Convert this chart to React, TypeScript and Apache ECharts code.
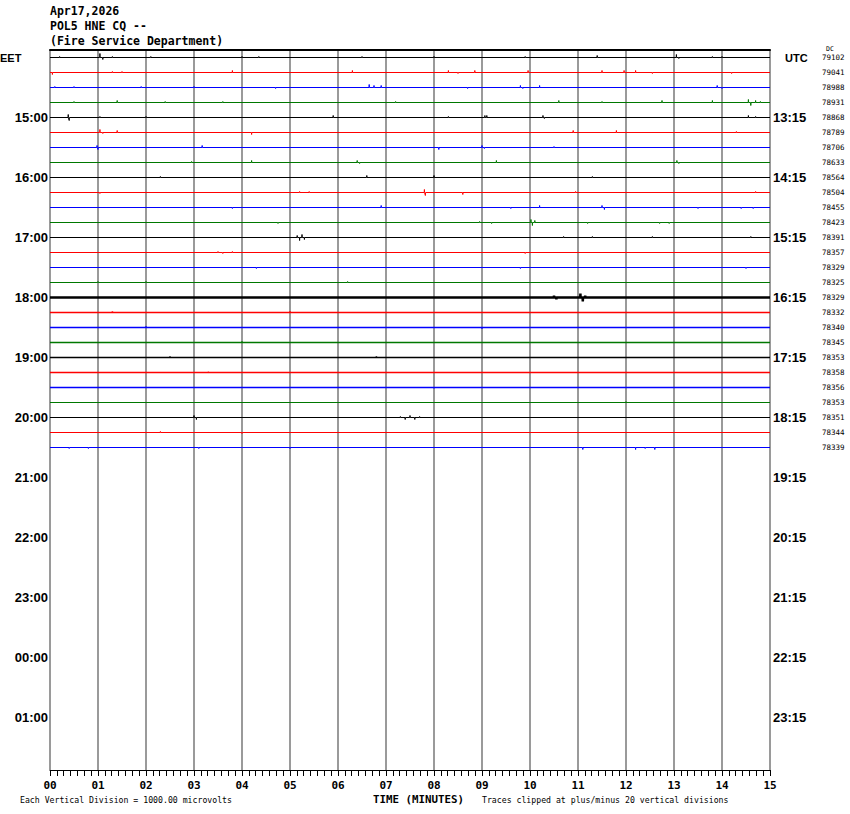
import React, { useEffect, useRef } from "react";
import * as echarts from "echarts";

// ---------- data ----------
const titleLines = ["Apr17,2026", "POL5 HNE CQ --", "(Fire Service Department)"];
const leftHourLabels = ["15:00", "16:00", "17:00", "18:00", "19:00", "20:00", "21:00", "22:00", "23:00", "00:00", "01:00"];
const rightHourLabels = ["13:15", "14:15", "15:15", "16:15", "17:15", "18:15", "19:15", "20:15", "21:15", "22:15", "23:15"];
const traceCounts = [
  79102, 79041, 78988, 78931, 78868, 78789, 78706, 78633, 78564, 78504, 78455, 78423, 78391, 78357,
  78329, 78325, 78329, 78332, 78340, 78345, 78353, 78358, 78356, 78353, 78351, 78344, 78339,
];
const traceColors = ["#000000", "#ff0000", "#0000ff", "#007800"];
// background noise level of each trace (in vertical divisions)
const traceNoise = [0, 0, 0, 0, 0, 0, 0, 0, 0, 0, 0, 0, 0, 0, 0, 0, 1.5, 0.5, 0.5, 0.4, 0.5, 0.3, 0.3, 0.2, 0, 0, 0];
// visible excursions of each trace: [minute, amplitude in divisions (+ = up)]
const traceEvents: [number, number][][] = [
  [[0.2, 1], [1.04, 4], [1.1, -2], [1.3, 1], [2.1, 1], [4.0, 1], [4.35, 1], [6.5, 1], [8.0, 1], [9.9, 1], [11.4, 2], [13.05, 3], [13.1, -1], [13.8, 1], [14.0, 1]],
  [[0.05, -2], [1.3, 1], [1.5, 1], [3.8, 2], [6.3, 2], [8.3, 2], [8.5, -1], [8.85, 2], [9.96, 2], [11.5, 2], [11.96, 2], [12.2, 2], [12.55, -1], [14.2, -1]],
  [[0.1, 1], [0.5, 1], [1.9, 1], [3.0, 1], [4.7, -1], [6.65, 3], [6.75, 2], [6.9, 2], [8.7, -1], [9.8, 2], [9.85, -1], [10.2, 2], [13.9, 2], [14.0, -1]],
  [[0.5, 1], [1.4, 2], [2.4, 1], [3.6, 1], [7.2, 1], [10.6, 2], [11.5, 1], [12.75, 2], [13.8, 2], [14.55, 3], [14.6, -3], [14.7, 2], [14.8, 1]],
  [[0.38, 3], [0.4, -3], [1.04, 1], [2.0, 1], [5.9, 2], [8.3, 1], [9.06, 2], [9.1, 2], [10.27, 2], [10.3, -1], [14.55, 2], [14.7, 1]],
  [[1.04, 3], [1.1, -1], [1.4, 2], [4.2, -2], [10.9, 2], [11.8, 2], [14.3, 1]],
  [[0.98, 2], [1.0, -2], [3.17, 2], [8.1, -2], [9.0, 2], [9.05, -1], [10.5, 1]],
  [[2.95, 1], [4.2, 2], [6.4, 2], [6.45, -1], [9.3, 2], [13.06, 2], [13.1, -1]],
  [[2.3, 1], [6.6, 2], [8.0, 2], [11.3, 1]],
  [[1.04, -1], [5.2, 1], [5.4, 1], [7.8, 3], [7.82, -3], [8.6, -2], [10.95, 1], [14.7, 1]],
  [[3.8, -1], [6.9, 2], [9.6, -1], [10.2, 2], [11.5, 2], [11.55, -2], [13.5, -1], [14.4, -1], [14.65, -1]],
  [[4.75, -1], [8.95, 1], [9.2, -1], [10.02, 3], [10.05, -3], [10.1, 2], [11.2, -1], [12.7, -1], [12.9, -1]],
  [[5.15, 2], [5.2, -3], [5.25, 3], [5.3, -2], [10.7, 1], [11.3, 1], [12.55, 1], [14.6, 1]],
  [[3.5, 1], [3.6, -1], [3.8, 1], [9.9, -1]],
  [[4.3, -1], [9.8, -1], [14.5, -1]],
  [[1.0, 1], [2.0, 1], [6.2, 1]],
  [[10.5, 2], [10.55, -2], [11.05, 4], [11.1, -4], [11.15, 2]],
  [[1.3, 1], [5.0, 1]],
  [[2.0, 1], [9.0, -1]],
  [[4.0, 1]],
  [[2.5, 1], [6.8, 1]],
  [[3.3, 1]],
  [[8.0, -1]],
  [[12.0, 1]],
  [[3.0, 2], [3.05, -2], [7.3, 1], [7.4, -2], [7.5, 2], [7.6, -2], [7.7, 1]],
  [[2.3, 1], [4.0, -1]],
  [[0.4, -1], [0.8, -1], [3.1, -1], [5.0, -1], [11.1, -2], [12.2, -2], [12.4, -1], [12.6, -2]],
];
const minuteCount = 15;
const rowCount = 48; // rows of 15 minutes in 12 hours
const rowsPerHour = 4;
const divisionsPerRow = 15;

const MONO = "'DejaVu Sans Mono', monospace";
const SANS = "'Liberation Sans', Arial, sans-serif";

function buildTrace(row: number, events: [number, number][]) {
  const base = row + 0.5;
  const pts: [number, number][] = [[0, base]];
  const sorted = [...events].sort((a, b) => a[0] - b[0]);
  const d = 0.004;
  for (const [m, a] of sorted) {
    pts.push([m - d, base]);
    pts.push([m, base - a / divisionsPerRow]);
    pts.push([m + d, base]);
  }
  pts.push([minuteCount, base]);
  return pts;
}

export default function App() {
  const ref = useRef<HTMLDivElement>(null);
  useEffect(() => {
    if (!ref.current) return;
    const chart = echarts.init(ref.current, null, { renderer: "svg" });
    const rowIds = Array.from({ length: rowCount }, (_, i) => String(i));
    const leftCats = rowIds.map((_, i) => (i > 0 && i % rowsPerHour === 0 ? leftHourLabels[i / rowsPerHour - 1] || "" : ""));
    const rightCats = rowIds.map((_, i) => (i > 0 && i % rowsPerHour === 0 ? rightHourLabels[i / rowsPerHour - 1] || "" : ""));

    const series: any[] = traceCounts.map((_, i) => ({
      type: "line",
      xAxisIndex: 0,
      yAxisIndex: 0,
      data: buildTrace(i, traceEvents[i] || []),
      symbol: "none",
      silent: true,
      z: 3,
      lineStyle: { color: traceColors[i % traceColors.length], width: 1 + (traceNoise[i] || 0) },
    }));

    const hourLabelStyle = { color: "#000", fontFamily: SANS, fontWeight: "bold" as const, fontSize: 13 };

    chart.setOption({
      animation: false,
      backgroundColor: "#ffffff",
      grid: { left: 50, top: 50, width: 720, height: 720, containLabel: false },
      xAxis: [
        {
          type: "value",
          min: 0,
          max: minuteCount,
          interval: 1,
          position: "bottom",
          axisLine: { show: true, onZero: false, lineStyle: { color: "#000", width: 1 } },
          axisTick: { show: true, length: 6, lineStyle: { color: "#000" } },
          minorTick: { show: true, splitNumber: 7, length: 6, lineStyle: { color: "#000" } },
          splitLine: { show: true, lineStyle: { color: "#9a9a9a", width: 2 } },
          minorSplitLine: { show: false },
          axisLabel: {
            formatter: (v: number) => String(v).padStart(2, "0"),
            color: "#000",
            fontFamily: MONO,
            fontWeight: "bold",
            fontSize: 11,
            margin: 10,
          },
        },
        {
          type: "value",
          min: 0,
          max: minuteCount,
          interval: 1,
          position: "top",
          axisLine: { show: true, onZero: false, lineStyle: { color: "#000", width: 2 } },
          axisTick: { show: false },
          minorTick: { show: false },
          axisLabel: { show: false },
          splitLine: { show: false },
        },
      ],
      yAxis: [
        { type: "value", min: 0, max: rowCount, inverse: true, show: false, position: "left", splitLine: { show: false } },
        {
          type: "category",
          data: rowIds,
          inverse: true,
          position: "left",
          axisLine: { show: false },
          axisTick: { show: false },
          splitLine: { show: false },
          axisLabel: { interval: 0, margin: 2, formatter: (_v: string, idx: number) => leftCats[idx], ...hourLabelStyle },
        },
        {
          type: "category",
          data: rowIds,
          inverse: true,
          position: "right",
          axisLine: { show: false },
          axisTick: { show: false },
          splitLine: { show: false },
          axisLabel: { interval: 0, margin: 3, formatter: (_v: string, idx: number) => rightCats[idx], ...hourLabelStyle },
        },
        {
          type: "category",
          data: rowIds,
          inverse: true,
          position: "right",
          axisLine: { show: false },
          axisTick: { show: false },
          splitLine: { show: false },
          axisLabel: {
            interval: 0,
            margin: 52,
            formatter: (_v: string, idx: number) => (idx < traceCounts.length ? String(traceCounts[idx]) : ""),
            color: "#000",
            fontFamily: MONO,
            fontSize: 7.5,
          },
        },
      ],
      graphic: [
        ...titleLines.map((t, i) => ({
          type: "text",
          left: 50,
          top: 5 + i * 15,
          style: { text: t, fill: "#000", font: `bold 11.5px ${MONO}` },
        })),
        { type: "text", left: 0, top: 52, style: { text: "EET", fill: "#000", font: `bold 11px ${SANS}` } },
        { type: "text", left: 785, top: 52, style: { text: "UTC", fill: "#000", font: `bold 11px ${SANS}` } },
        { type: "text", left: 826, top: 45, style: { text: "DC", fill: "#000", font: `6.5px ${MONO}` } },
        { type: "text", left: 20, top: 796, style: { text: "Each Vertical Division = 1000.00 microvolts", fill: "#000", font: `8.2px ${MONO}` } },
        { type: "text", left: 373, top: 794, style: { text: "TIME (MINUTES)", fill: "#000", font: `bold 10.8px ${MONO}` } },
        { type: "text", left: 482, top: 796, style: { text: "Traces clipped at plus/minus 20 vertical divisions", fill: "#000", font: `8.2px ${MONO}` } },
      ],
      series,
    });
    return () => chart.dispose();
  }, []);
  return <div ref={ref} style={{ position: "absolute", left: 0, top: 0, width: 850, height: 814 }} />;
}
